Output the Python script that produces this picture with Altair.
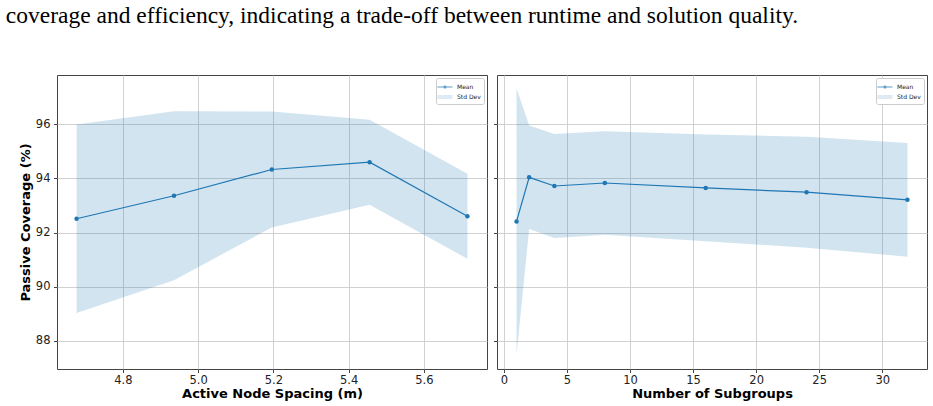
import altair as alt
import pandas as pd

CAPTION = "coverage and efficiency, indicating a trade-off between runtime and solution quality."

# Passive coverage vs. active node spacing
spacing_m = [4.677, 4.936, 5.196, 5.456, 5.716]
spacing_mean = [92.51, 93.36, 94.33, 94.60, 92.60]
spacing_std = [3.48, 3.12, 2.14, 1.57, 1.57]

# Passive coverage vs. number of subgroups
subgroups = [1, 2, 4, 8, 16, 24, 32]
subgroup_mean = [92.41, 94.04, 93.72, 93.83, 93.65, 93.49, 93.21]
subgroup_std = [4.92, 1.91, 1.92, 1.91, 1.97, 2.05, 2.10]

SERIES = ["Mean", "Std Dev"]

Y_DOMAIN = [86.96, 97.82]
Y_TICKS = [88, 90, 92, 94, 96]
SPACING_TICKS = [4.8, 5.0, 5.2, 5.4, 5.6]
SUBGROUP_TICKS = [0, 5, 10, 15, 20, 25, 30]

BLUE = "#1f77b4"
BAND = "#d2e3f0"

# legend glyphs: a line with a dot, and a filled strip built from hairlines
MEAN_GLYPH = "M-1.5,0H1.5M0.2,0A0.2,0.2,0,1,1,-0.2,0A0.2,0.2,0,1,1,0.2,0Z"
BAND_GLYPH = "M-1.5,-0.3H1.5M-1.5,-0.15H1.5M-1.5,0H1.5M-1.5,0.15H1.5M-1.5,0.3H1.5"


def frame(xs, means, stds):
    return pd.DataFrame({
        "x": xs,
        "mean": means,
        "lo": [m - s for m, s in zip(means, stds)],
        "hi": [m + s for m, s in zip(means, stds)],
    })


def make_legend():
    return alt.Legend(
        title=None,
        orient="top-right",
        offset=3,
        padding=3,
        fillColor="white",
        strokeColor="#cccccc",
        cornerRadius=2,
        labelFont="DejaVu Sans",
        labelFontSize=6,
        labelColor="#222222",
        symbolSize=100,
        symbolStrokeWidth=1.2,
        labelOffset=6,
        rowPadding=0,
    )


def panel(df, x_title, x_domain, x_ticks, x_format, show_y_labels):
    x = alt.X(
        "x:Q",
        scale=alt.Scale(domain=x_domain, nice=False, zero=False),
        axis=alt.Axis(title=x_title, values=x_ticks, format=x_format),
    )
    if show_y_labels:
        y_axis = alt.Axis(title="Passive Coverage (%)", values=Y_TICKS, format="d")
    else:
        y_axis = alt.Axis(title=None, labels=False, values=Y_TICKS)
    y_scale = alt.Scale(domain=Y_DOMAIN, nice=False, zero=False)

    base = alt.Chart(df)
    band = base.mark_area(opacity=0.2, color=BLUE).encode(
        x=x,
        y=alt.Y("lo:Q", scale=y_scale, axis=y_axis),
        y2="hi:Q",
    )
    line = base.mark_line(
        color=BLUE,
        strokeWidth=1.2,
        point=alt.OverlayMarkDef(size=20, filled=True, opacity=1, color=BLUE),
    ).encode(
        x=x,
        y=alt.Y("mean:Q", scale=y_scale, axis=y_axis),
    )
    # key layer: carries only the legend, no rows are drawn
    key = (
        alt.Chart(pd.DataFrame({"series": SERIES}))
        .transform_filter("false")
        .mark_point(filled=False)
        .encode(
            stroke=alt.Stroke("series:N", scale=alt.Scale(domain=SERIES, range=[BLUE, BAND]),
                              legend=make_legend()),
            shape=alt.Shape("series:N", scale=alt.Scale(domain=SERIES, range=[MEAN_GLYPH, BAND_GLYPH]),
                            legend=make_legend()),
        )
    )
    return alt.layer(band, line, key).properties(width=430, height=294)


left = panel(frame(spacing_m, spacing_mean, spacing_std),
             "Active Node Spacing (m)", [4.625, 5.768], SPACING_TICKS, ".1f", True)
right = panel(frame(subgroups, subgroup_mean, subgroup_std),
              "Number of Subgroups", [-0.55, 33.55], SUBGROUP_TICKS, "d", False)

chart = (
    alt.hconcat(left, right, spacing=4)
    .resolve_scale(stroke="independent", shape="independent", x="independent", y="independent")
    .resolve_legend(stroke="independent", shape="independent")
    .properties(
        title=alt.TitleParams(
            CAPTION,
            font="Liberation Serif",
            fontSize=23.5,
            fontWeight="normal",
            color="black",
            anchor="start",
            dx=-13,
            offset=47,
        ),
        padding={"left": 5, "top": 4, "right": 4, "bottom": 2},
        background="white",
    )
    .configure_axis(
        labelFont="DejaVu Sans",
        labelFontSize=11.5,
        labelColor="#222222",
        titleFont="DejaVu Sans",
        titleFontSize=13,
        titleFontWeight="bold",
        titleColor="black",
        gridColor="#cccccc",
        gridWidth=0.9,
        domain=False,
        tickColor="#444444",
        tickSize=3.5,
        tickWidth=1,
    )
    .configure_axisX(labelPadding=2, titlePadding=1)
    .configure_axisY(labelPadding=3.5, titlePadding=3)
    .configure_view(stroke="#444444", strokeWidth=1)
)

chart.save("out.html", embed_options={"renderer": "svg", "actions": False})
